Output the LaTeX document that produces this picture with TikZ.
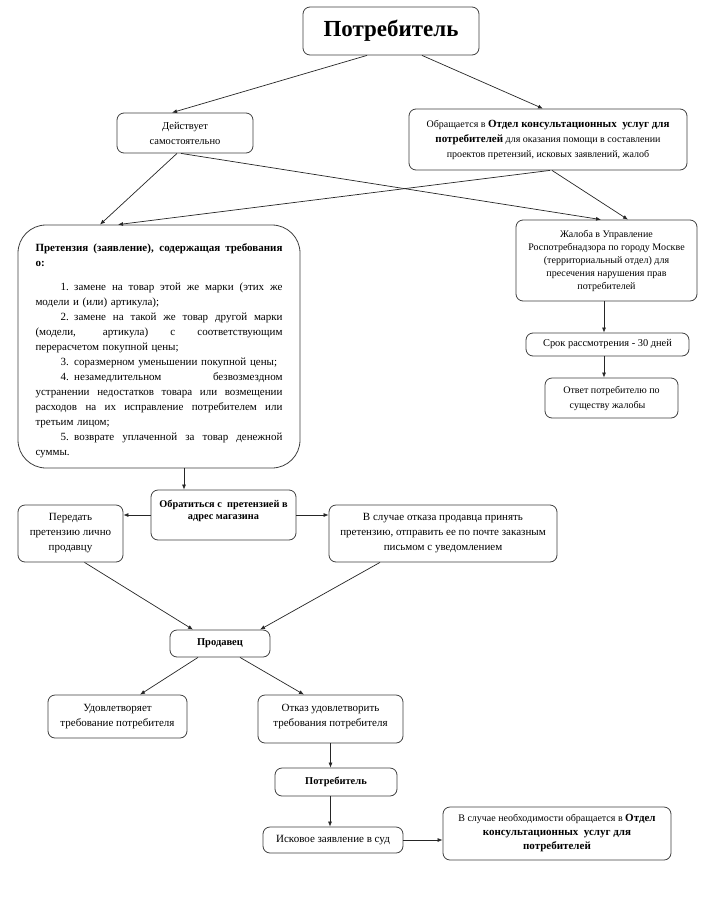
\documentclass[tikz,border=0pt]{standalone}
\usepackage{fontspec}
\setmainfont{Liberation Serif}
\usetikzlibrary{arrows.meta}
\newcommand\JLine[1]{\leavevmode\hbox to 247pt{\spaceskip=0.25em plus 1fil minus 0.05em\relax #1}}
\newcommand\ind{\hspace*{25pt}}
\newcommand\bb[1]{{\fontsize{11}{15}\selectfont\bfseries #1}}
\begin{document}
\begin{tikzpicture}[x=1pt,y=-1pt,
 box/.style={draw=black!75, line width=0.8pt, rounded corners=7pt, inner sep=2pt, align=center, font=\fontsize{11}{15}\selectfont},
 arr/.style={draw=black!85, line width=0.7pt, -{Latex[length=5pt,width=4pt]}},
 ]
\useasboundingbox (0,0) rectangle (711,900);
\fill[white] (0,0) rectangle (711,900);

\node[box, minimum width=176pt, minimum height=48pt, font=\fontsize{23}{26}\selectfont\bfseries] (top) at (391,31) {Потребитель};
\node[box, minimum width=136pt, minimum height=40pt, font=\fontsize{10.5}{15}\selectfont] (act) at (185,133) {Действует\\самостоятельно};
\node[box, minimum width=278pt, minimum height=61pt, font=\fontsize{10}{15}\selectfont] (obr) at (548,139.5)
 {Обращается в \bb{Отдел консультационных\ \ услуг для}\\\bb{потребителей} для оказания помощи в составлении\\проектов претензий, исковых заявлений, жалоб};

\node[box, rounded corners=28pt, minimum width=282pt, minimum height=243pt] (claim) at (159,346.5) {};
\node[text width=247pt, align=left, inner sep=0pt, font=\fontsize{11}{15}\selectfont] (claimT) at (159,351)
 {\JLine{\bfseries Претензия (заявление), содержащая требования}\\
  \textbf{о:}\\[9pt]
  \JLine{\ind 1. замене на товар этой же марки (этих же}\\
  модели и (или) артикула);\\
  \JLine{\ind 2. замене на такой же товар другой марки}\\
  \JLine{(модели, артикула) с соответствующим}\\
  перерасчетом покупной цены;\\
  \ind 3. соразмерном уменьшении покупной цены;\\
  \JLine{\ind 4. незамедлительном безвозмездном}\\
  \JLine{устранении недостатков товара или возмещении}\\
  \JLine{расходов на их исправление потребителем или}\\
  третьим лицом;\\
  \JLine{\ind 5. возврате уплаченной за товар денежной}\\
  суммы.};

\node[box, minimum width=181pt, minimum height=81pt, font=\fontsize{10}{13}\selectfont] (zhal) at (606.5,260.5)
 {Жалоба в Управление\\Роспотребнадзора по городу Москве\\(территориальный отдел) для\\пресечения нарушения прав\\потребителей};
\node[box, minimum width=163pt, minimum height=23pt, font=\fontsize{10.4}{13}\selectfont] (srok) at (607.5,344.5) {Срок рассмотрения - 30 дней};
\node[box, minimum width=133pt, minimum height=40pt, font=\fontsize{10}{15}\selectfont] (otvet) at (611.5,398) {Ответ потребителю по\\существу жалобы\hspace*{8pt}};

\node[box, minimum width=145pt, minimum height=50pt] (obrat) at (223.5,515) {};
\node[align=center, font=\fontsize{10.3}{12}\selectfont\bfseries] (obratT) at (223.5,511) {Обратиться с\ \ претензией в\\адрес магазина};
\node[box, minimum width=105pt, minimum height=57pt] (peredat) at (70.5,533.5) {Передать\\претензию лично\\продавцу};
\node[box, minimum width=228pt, minimum height=57pt] (vsl) at (443,533.5) {В случае отказа продавца принять\\претензию, отправить ее по почте заказным\\письмом с уведомлением};

\node[box, minimum width=100pt, minimum height=27pt, font=\fontsize{10.5}{15}\selectfont\bfseries] (prod) at (220,643.5) {Продавец};
\node[box, minimum width=139pt, minimum height=43pt] (udov) at (117.5,716.5) {Удовлетворяет\\требование потребителя};
\node[box, minimum width=145pt, minimum height=48pt] (otkaz) at (330.5,719) {};
\node[align=center, font=\fontsize{11}{15}\selectfont] (otkazT) at (330.5,717) {Отказ удовлетворить\\требования потребителя};
\node[box, minimum width=122pt, minimum height=28pt, font=\fontsize{10.5}{15}\selectfont\bfseries] (potr2) at (336,782) {Потребитель};
\node[box, minimum width=140pt, minimum height=26pt] (isk) at (333,840) {Исковое заявление в суд};
\node[box, minimum width=228pt, minimum height=53pt, font=\fontsize{10}{14}\selectfont] (neob) at (557,833.5)
 {В случае необходимости обращается в {\fontsize{11}{14}\selectfont\bfseries Отдел}\\
  {\fontsize{11}{14}\selectfont\bfseries консультационных\ \ услуг для}\\
  {\fontsize{11}{14}\selectfont\bfseries потребителей}};

% connectors
\draw[arr] ([xshift=-24pt]top.south) -- ([xshift=-13pt]act.north);
\draw[arr] ([xshift=31pt]top.south) -- ([xshift=-5pt]obr.north);
\draw[arr] ([xshift=-8pt]act.south) -- ([xshift=-59pt]claim.north);
\draw[arr] ([xshift=-4pt]act.south) -- ([xshift=-5.5pt]zhal.north);
\draw[arr] ([xshift=2pt]obr.south) -- ([xshift=-41pt]claim.north);
\draw[arr] ([xshift=4pt]obr.south) -- ([xshift=21.5pt]zhal.north);
\draw[arr] ([xshift=-2.5pt]zhal.south) -- ([xshift=-3.5pt]srok.north);
\draw[arr] ([xshift=-3.5pt]srok.south) -- ([xshift=-7.5pt]otvet.north);
\draw[arr] ([xshift=25pt]claim.south) -- ([xshift=-39.5pt]obrat.north);
\draw[arr] (obrat.west) -- (obrat.west -| peredat.east);
\draw[arr] (obrat.east) -- (obrat.east -| vsl.west);
\draw[arr] ([xshift=14pt]peredat.south) -- ([xshift=-27pt]prod.north);
\draw[arr] ([xshift=-63pt]vsl.south) -- ([xshift=40pt]prod.north);
\draw[arr] ([xshift=-22pt]prod.south) -- ([xshift=22.5pt]udov.north);
\draw[arr] ([xshift=20pt]prod.south) -- ([xshift=-26.5pt]otkaz.north);
\draw[arr] (otkaz.south) -- (otkaz.south |- potr2.north);
\draw[arr] ([xshift=-6pt]potr2.south) -- ([xshift=-3pt]isk.north);
\draw[arr] (isk.east) -- (isk.east -| neob.west);
\end{tikzpicture}
\end{document}
